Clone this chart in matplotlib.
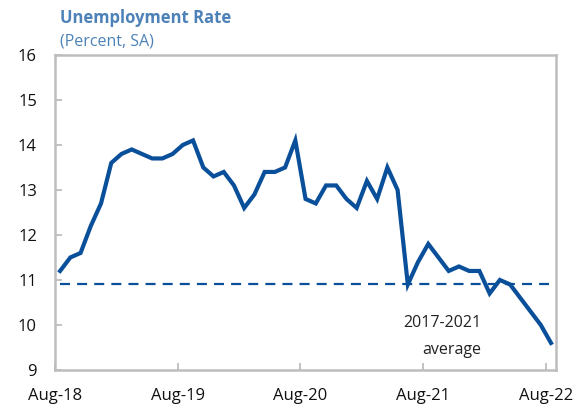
import numpy as np
import matplotlib.pyplot as plt

plt.rcParams['font.family'] = ['Open Sans', 'DejaVu Sans']

# monthly unemployment rate, Aug-18 .. Aug-22
rate = [11.2, 11.5, 11.6, 12.2, 12.7, 13.6, 13.8, 13.9, 13.8, 13.7, 13.7, 13.8,
        14.0, 14.1, 13.5, 13.3, 13.4, 13.1, 12.6, 12.9, 13.4, 13.4, 13.5, 14.1,
        12.8, 12.7, 13.1, 13.1, 12.8, 12.6, 13.2, 12.8, 13.5, 13.0, 10.9, 11.4,
        11.8, 11.5, 11.2, 11.3, 11.2, 11.2, 10.7, 11.0, 10.9, 10.6, 10.3, 10.0,
        9.6]
avg_2017_2021 = 10.92
tick_labels = ['Aug-18', 'Aug-19', 'Aug-20', 'Aug-21', 'Aug-22']
y_ticks = [9, 10, 11, 12, 13, 14, 15, 16]

line_col = '#0A4F9A'
title_col = '#4D82B8'
spine_col = '#BDBDBD'

fig = plt.figure(figsize=(5.82, 4.07), dpi=100)
ax = fig.add_axes([0.0945, 0.091, 0.861, 0.774])

x = np.arange(len(rate)) + 0.5
ax.plot(x, rate, color=line_col, lw=3.0, solid_joinstyle='miter')
ax.axhline(avg_2017_2021, xmin=0.01, xmax=0.985, color=line_col, lw=1.6,
           dashes=(4.5, 3.2))

ax.text(41.7, 10.04, '2017-2021', ha='right', va='center', fontsize=11.5,
        color='#222222')
ax.text(41.7, 9.44, 'average', ha='right', va='center', fontsize=11.5,
        color='#222222')

ax.set_xlim(0, len(rate))
ax.set_ylim(9, 16)
ax.set_xticks([0, 12, 24, 36, 48])
ax.set_xticklabels(tick_labels)
ax.set_yticks(y_ticks)

for s in ax.spines.values():
    s.set_color(spine_col)
    s.set_linewidth(1.8)
ax.tick_params(direction='in', length=5, width=1.3, color=spine_col,
               labelsize=12, labelcolor='#111111', pad=13)

fig.text(0.103, 0.957, 'Unemployment Rate', fontsize=12, fontweight='bold',
         color=title_col, va='center')
fig.text(0.103, 0.897, '(Percent, SA)', fontsize=11.5, color=title_col,
         va='center')

plt.savefig('out.png', dpi=100)
